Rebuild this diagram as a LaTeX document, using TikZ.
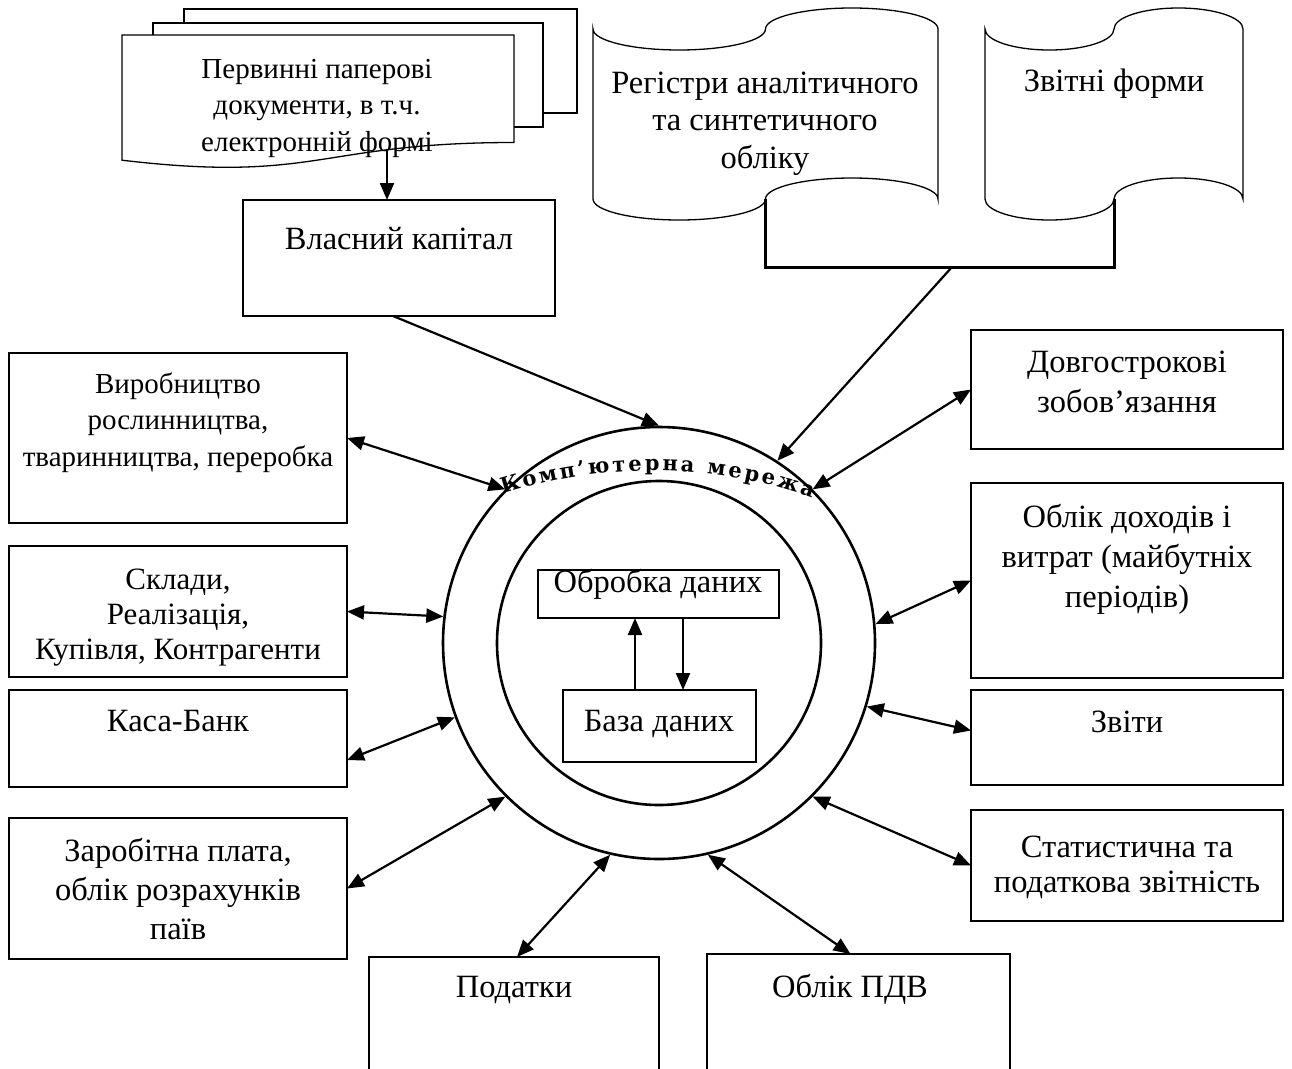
\documentclass[tikz,border=0pt]{standalone}
\usepackage{fontspec}
\setmainfont{Liberation Serif}
\newfontfamily\arcfont{DejaVu Serif}
\usetikzlibrary{arrows.meta,calc,decorations.text}
\newcommand\myfs[2]{\fontsize{#1}{#2}\selectfont}
\begin{document}
\begin{tikzpicture}[x=1pt,y=-1pt,
  font=\myfs{32.5}{37},
  box/.style={draw, line width=1.3pt, inner sep=0pt, outer sep=0pt, fill=white},
  lbl/.style={anchor=base, align=center, inner sep=0pt},
  shp/.style={draw, line width=1.3pt, fill=white},
  tip/.tip={Triangle[length=17pt,width=14pt]},
  con/.style={line width=2.2pt, tip-tip},
  one/.style={line width=2.2pt, -tip},
  ring/.style={circle, draw, line width=2.6pt, inner sep=0pt}]
\useasboundingbox (0,0) rectangle (1292,1068);
\clip (0,0) rectangle (1292,1068);

% ---- stacked documents
\draw[shp] (184,9) rectangle (577,113);
\draw[shp] (153,23) rectangle (543,127);
\draw[shp] (122,35) -- (514,35) -- (514,142.5)
   .. controls (318,142.5) and (318,183.3) .. (122,160.2) -- cycle;
\node[lbl, font=\myfs{29}{36.5}] (doct) at (317,151)
  {Первинні паперові\\документи, в т.ч.\\електронній формі};
\coordinate (docA) at (387,151);

% ---- punched tapes
\draw[shp] (593,29) arc[start angle=180,end angle=0,x radius=86.25,y radius=21]
  arc[start angle=180,end angle=360,x radius=86.25,y radius=21]
  -- (938,199) arc[start angle=360,end angle=180,x radius=86.25,y radius=21]
  arc[start angle=0,end angle=180,x radius=86.25,y radius=21] -- cycle;
\draw[shp] (985,29) arc[start angle=180,end angle=0,x radius=64.5,y radius=21]
  arc[start angle=180,end angle=360,x radius=64.5,y radius=21]
  -- (1243,199) arc[start angle=360,end angle=180,x radius=64.5,y radius=21]
  arc[start angle=0,end angle=180,x radius=64.5,y radius=21] -- cycle;
\node[lbl, font=\myfs{32.5}{37.5}] (tp1t) at (765,168)
  {Регістри аналітичного\\та синтетичного\\обліку};
\node[lbl] (tp2t) at (1114,91) {Звітні форми};
\coordinate (t1m) at (765,199);
\coordinate (t2m) at (1114,199);
\coordinate (brl) at (765,267);
\coordinate (brr) at (1114,267);
\coordinate (brk) at (952,267);
\draw[line width=3pt] (t1m) -- (brl) -- (brr) -- (t2m);

% ---- boxes
\node[box, minimum width=312pt, minimum height=116pt] (vk) at (399,258) {};
\node[box, minimum width=338pt, minimum height=170pt] (b1) at (178,438) {};
\node[box, minimum width=338pt, minimum height=131pt] (b2) at (178,611.5) {};
\node[box, minimum width=338pt, minimum height=97pt] (b3) at (178,738.5) {};
\node[box, minimum width=338pt, minimum height=141pt] (b4) at (178,888.5) {};
\node[box, minimum width=312pt, minimum height=119pt] (r1) at (1127,389.5) {};
\node[box, minimum width=312pt, minimum height=195pt] (r2) at (1127,580.5) {};
\node[box, minimum width=312pt, minimum height=95pt] (r3) at (1127,737.5) {};
\node[box, minimum width=312pt, minimum height=111pt] (r4) at (1127,865.5) {};
\node[box, minimum width=290pt, minimum height=143pt] (p1) at (514,1028.5) {};
\node[box, minimum width=303pt, minimum height=146pt] (p2) at (858.5,1027) {};

\node[lbl] (vkt) at (399,249) {Власний капітал};
\node[lbl, font=\myfs{29}{36.5}] (b1t) at (178,466)
  {Виробництво\\рослинництва,\\тваринництва, переробка};
\node[lbl, font=\myfs{31}{35}] (b2t) at (178,659)
  {Склади,\\Реалізація,\\Купівля, Контрагенти};
\node[lbl] (b3t) at (178,731) {Каса-Банк};
\node[lbl, font=\myfs{32.5}{39}] (b4t) at (178,939)
  {Заробітна плата,\\облік розрахунків\\паїв};
\node[lbl, font=\myfs{32.5}{40}] (r1t) at (1127,412)
  {Довгострокові\\зобов’язання};
\node[lbl, font=\myfs{32.5}{40}] (r2t) at (1127,607)
  {Облік доходів і\\витрат (майбутніх\\періодів)};
\node[lbl] (r3t) at (1127,732) {Звіти};
\node[lbl, font=\myfs{32.5}{35}] (r4t) at (1127,892)
  {Статистична та\\податкова звітність};
\node[lbl] (p1t) at (514,997) {Податки};
\node[lbl] (p2t) at (850,997) {Облік ПДВ};

% ---- central circles
\node[ring, minimum size=432pt] (outer) at (659,643) {};
\node[ring, minimum size=324pt] (inner) at (659,643) {};
\node[box, fill=none, minimum width=241pt, minimum height=48pt] (ob) at (658.5,594) {};
\node[box, fill=none, minimum width=193pt, minimum height=72pt] (bd) at (659.5,726) {};
\node[lbl] (obt) at (658,592) {Обробка даних};
\node[lbl] (bdt) at (659,731) {База даних};
\draw[one] (bd.north -| 635,0) -- (ob.south -| 635,0);
\draw[one] (ob.south -| 683,0) -- (bd.north -| 683,0);

\path[decorate, decoration={text along path,
  text={|\arcfont\bfseries\myfs{21}{21}|Комп’ютерна мережа},
  text align={fit to path}}]
  (503,494) .. controls (605,462) and (710,462) .. (812,498);

% ---- connectors
\draw[one] (docA) -- (docA |- vk.north);
\draw[one] ($(vk.south)+(-6,0)$) -- (outer.90);
\draw[one] (brk) -- (outer.57);
\draw[con] (b1.east) -- (outer.135);
\draw[con] (b2.east) -- (outer.173);
\draw[con] ($(b3.east)+(0,21.5)$) -- (outer.200);
\draw[con] (b4.east) -- (outer.225);
\draw[con] ($(p1.north)+(3,0)$) -- (outer.257);
\draw[con] ($(p2.north)+(-8,0)$) -- (outer.283);
\draw[con] (r4.west) -- (outer.315);
\draw[con] ($(r3.west)+(0,-7)$) -- (outer.343);
\draw[con] (r2.west) -- (outer.5);
\draw[con] (r1.west) -- (outer.45.5);
\end{tikzpicture}
\end{document}
